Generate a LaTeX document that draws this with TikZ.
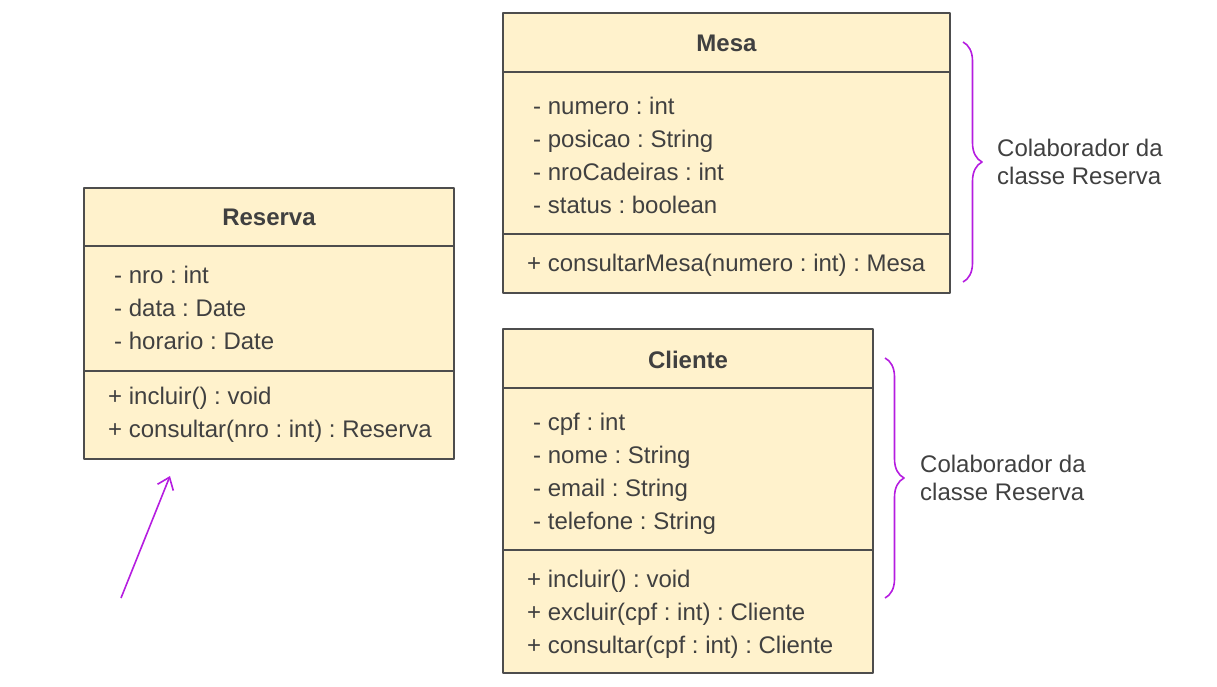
\documentclass[tikz,border=0pt]{standalone}
\usepackage{fontspec}
\setmainfont{Liberation Sans}
\usetikzlibrary{decorations.pathreplacing,arrows.meta}
\definecolor{clsfill}{HTML}{FFF2CC}
\definecolor{clsline}{HTML}{4D4D4D}
\definecolor{txtgray}{HTML}{404040}
\definecolor{brpurple}{HTML}{B51DE0}
\frenchspacing

\begin{document}
\begin{tikzpicture}[x=1pt, y=-1pt, line join=round,
  cls/.style={fill=clsfill, draw=clsline, line width=1.5pt},
  divider/.style={draw=clsline, line width=1.5pt},
  title/.style={font=\fontsize{24}{28}\selectfont\bfseries, text=txtgray, inner sep=0pt},
  item/.style={font=\fontsize{24}{28}\selectfont, text=txtgray, inner sep=0pt, anchor=base west},
  note/.style={font=\fontsize{24}{28}\selectfont, text=txtgray, align=left, inner sep=0pt, anchor=west},
  collab/.style={decorate, decoration={brace, amplitude=19pt}, draw=brpurple, line width=1.6pt}]
\useasboundingbox (0,0) rectangle (1217,686);

% Reserva
\filldraw[cls] (84,188) rectangle (454,459);
\draw[divider] (84,246) -- (454,246) (84,371) -- (454,371);
\node[title] (resT) at (269,217) {Reserva};
\foreach \t [count=\i] in {- nro : int, - data : Date, - horario : Date}
  \node[item] (resA\i) at (114,{250+33*\i}) {\t};
\foreach \t [count=\i] in {+ incluir() : void, + consultar(nro : int) : Reserva}
  \node[item] (resM\i) at (108,{371+33*\i}) {\t};

% Mesa
\filldraw[cls] (503,13) rectangle (950,293);
\draw[divider] (503,72) -- (950,72) (503,234) -- (950,234);
\node[title] (mesaT) at (726.5,43) {Mesa};
\foreach \t [count=\i] in {- numero : int, - posicao : String, - nroCadeiras : int, - status : boolean}
  \node[item] (mesaA\i) at (533,{81+33*\i}) {\t};
\node[item] (mesaM1) at (527,271) {+ consultarMesa(numero : int) : Mesa};

% Cliente
\filldraw[cls] (503,329) rectangle (873,673);
\draw[divider] (503,388) -- (873,388) (503,550) -- (873,550);
\node[title] (cliT) at (688,360) {Cliente};
\foreach \t [count=\i] in {- cpf : int, - nome : String, - email : String, - telefone : String}
  \node[item] (cliA\i) at (533,{397+33*\i}) {\t};
\foreach \t [count=\i] in {+ incluir() : void, + excluir(cpf : int) : Cliente, + consultar(cpf : int) : Cliente}
  \node[item] (cliM\i) at (527,{554+33*\i}) {\t};

% colaboradores
\coordinate (mesaBt) at (963,42);
\coordinate (mesaBb) at (963,282);
\draw[collab] (mesaBt) -- (mesaBb);
\node[note] (mesaN) at (997,162) {Colaborador da\\classe Reserva};
\coordinate (cliBt) at (885,358);
\coordinate (cliBb) at (885,598);
\draw[collab] (cliBt) -- (cliBb);
\node[note] (cliN) at (920,478) {Colaborador da\\classe Reserva};

% seta
\coordinate (arrS) at (121,598);
\coordinate (arrE) at (170,476);
\draw[brpurple, line width=1.6pt, -{Straight Barb[length=11pt,width=17pt]}] (arrS) -- (arrE);
\end{tikzpicture}
\end{document}
